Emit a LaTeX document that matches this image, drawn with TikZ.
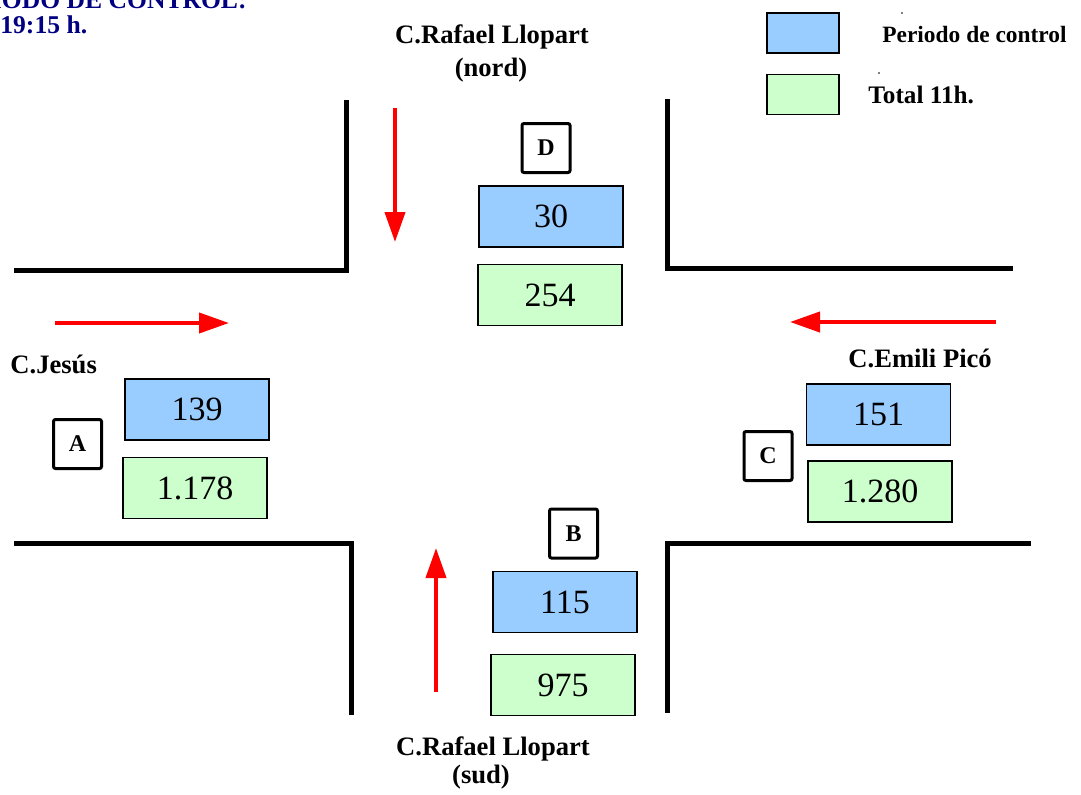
\documentclass[tikz,border=0pt]{standalone}
\usepackage{fontspec}
\setmainfont{Liberation Serif}
\usetikzlibrary{arrows.meta}
\definecolor{boxblue}{HTML}{99CCFF}
\definecolor{boxgreen}{HTML}{CCFFCC}
\definecolor{navyblue}{HTML}{000080}
\begin{document}
\begin{tikzpicture}[x=0.5pt,y=-0.5pt,
  road/.style={line width=2.5pt},
  flow/.style={draw=red, line width=2pt, -{Triangle[length=15pt,width=10pt]}, red},
  valbox/.style={draw, line width=0.75pt, minimum width=72pt, minimum height=30.5pt, inner sep=0pt, font=\fontsize{17}{19}\selectfont},
  pbox/.style={valbox, fill=boxblue},
  tbox/.style={valbox, fill=boxgreen},
  lettbox/.style={draw, line width=1.5pt, rounded corners=1pt, minimum width=24pt, minimum height=24.5pt, inner sep=0pt, font=\bfseries\fontsize{12}{14}\selectfont},
  street/.style={font=\bfseries\fontsize{13.3}{15}\selectfont, inner sep=0pt},
  legtext/.style={font=\bfseries\fontsize{11.7}{14}\selectfont, inner sep=0pt, anchor=base west},
  legbox/.style={draw, line width=0.75pt, minimum width=36pt, minimum height=20pt, inner sep=0pt},
  title/.style={font=\bfseries\fontsize{12.8}{15}\selectfont, text=navyblue, inner sep=0pt}
]
\useasboundingbox (0,0) rectangle (1081,794);
\clip (0,0) rectangle (1081,794);

% title (cut off at the page edge, as in the reference)
\node[title, anchor=base east] (t1) at (247,8) {PERIODO DE CONTROL:};
\node[title, anchor=base west] (t2) at (0,33) {19:15 h.};

% legend
\node[legbox, fill=boxblue] (lb) at (803,33) {};
\node[legbox, fill=boxgreen] (lg) at (803,94.5) {};
\node[legtext] (lbt) at (882,42) {Periodo de control};
\node[legtext, font=\bfseries\fontsize{12.6}{14}\selectfont] (lgt) at (868,103) {Total 11h.};
\fill (902,13) circle (0.8);
\fill (879,73) circle (0.8);

% roads
\draw[road] (346,100) -- (346,270) -- (14,270);
\draw[road] (667,99) -- (667,268) -- (1013,268);
\draw[road] (14,543) -- (351,543) -- (351,715);
\draw[road] (667,713) -- (667,543) -- (1031,543);

% flow arrows
\coordinate (ns) at (395,108);
\coordinate (ne) at (395,242);
\coordinate (ws) at (55,323);
\coordinate (we) at (229,323);
\coordinate (es) at (996,322);
\coordinate (ee) at (790,322);
\coordinate (ss) at (436,692);
\coordinate (se) at (436,548);
\draw[flow] (ns) -- (ne);
\draw[flow] (ws) -- (we);
\draw[flow] (es) -- (ee);
\draw[flow] (ss) -- (se);

% street names
\node[street, anchor=base] (rn1) at (492,43) {C.Rafael Llopart};
\node[street, anchor=base] (rn2) at (491,76) {(nord)};
\node[street, anchor=base] (rs1) at (493,755) {C.Rafael Llopart};
\node[street, anchor=base] (rs2) at (481,783) {(sud)};
\node[street, anchor=base west] (cj) at (10,373) {C.Jesús};
\node[street, anchor=base west] (ce) at (848,367) {C.Emili Picó};

% D
\node[lettbox] (D) at (546,148) {D};
\node[pbox] (Dp) at (551,216.5) {30};
\node[tbox] (Dt) at (550,295) {254};
% A
\node[lettbox] (A) at (77.5,444) {A};
\node[pbox] (Ap) at (197,409.5) {139};
\node[tbox] (At) at (195,488) {1.178};
% C
\node[lettbox] (C) at (768,456) {C};
\node[pbox] (Cp) at (878.5,414.5) {151};
\node[tbox] (Ct) at (880,491.5) {1.280};
% B
\node[lettbox] (B) at (573.5,533.5) {B};
\node[pbox] (Bp) at (565,602) {115};
\node[tbox] (Bt) at (563,685) {975};
\end{tikzpicture}
\end{document}
